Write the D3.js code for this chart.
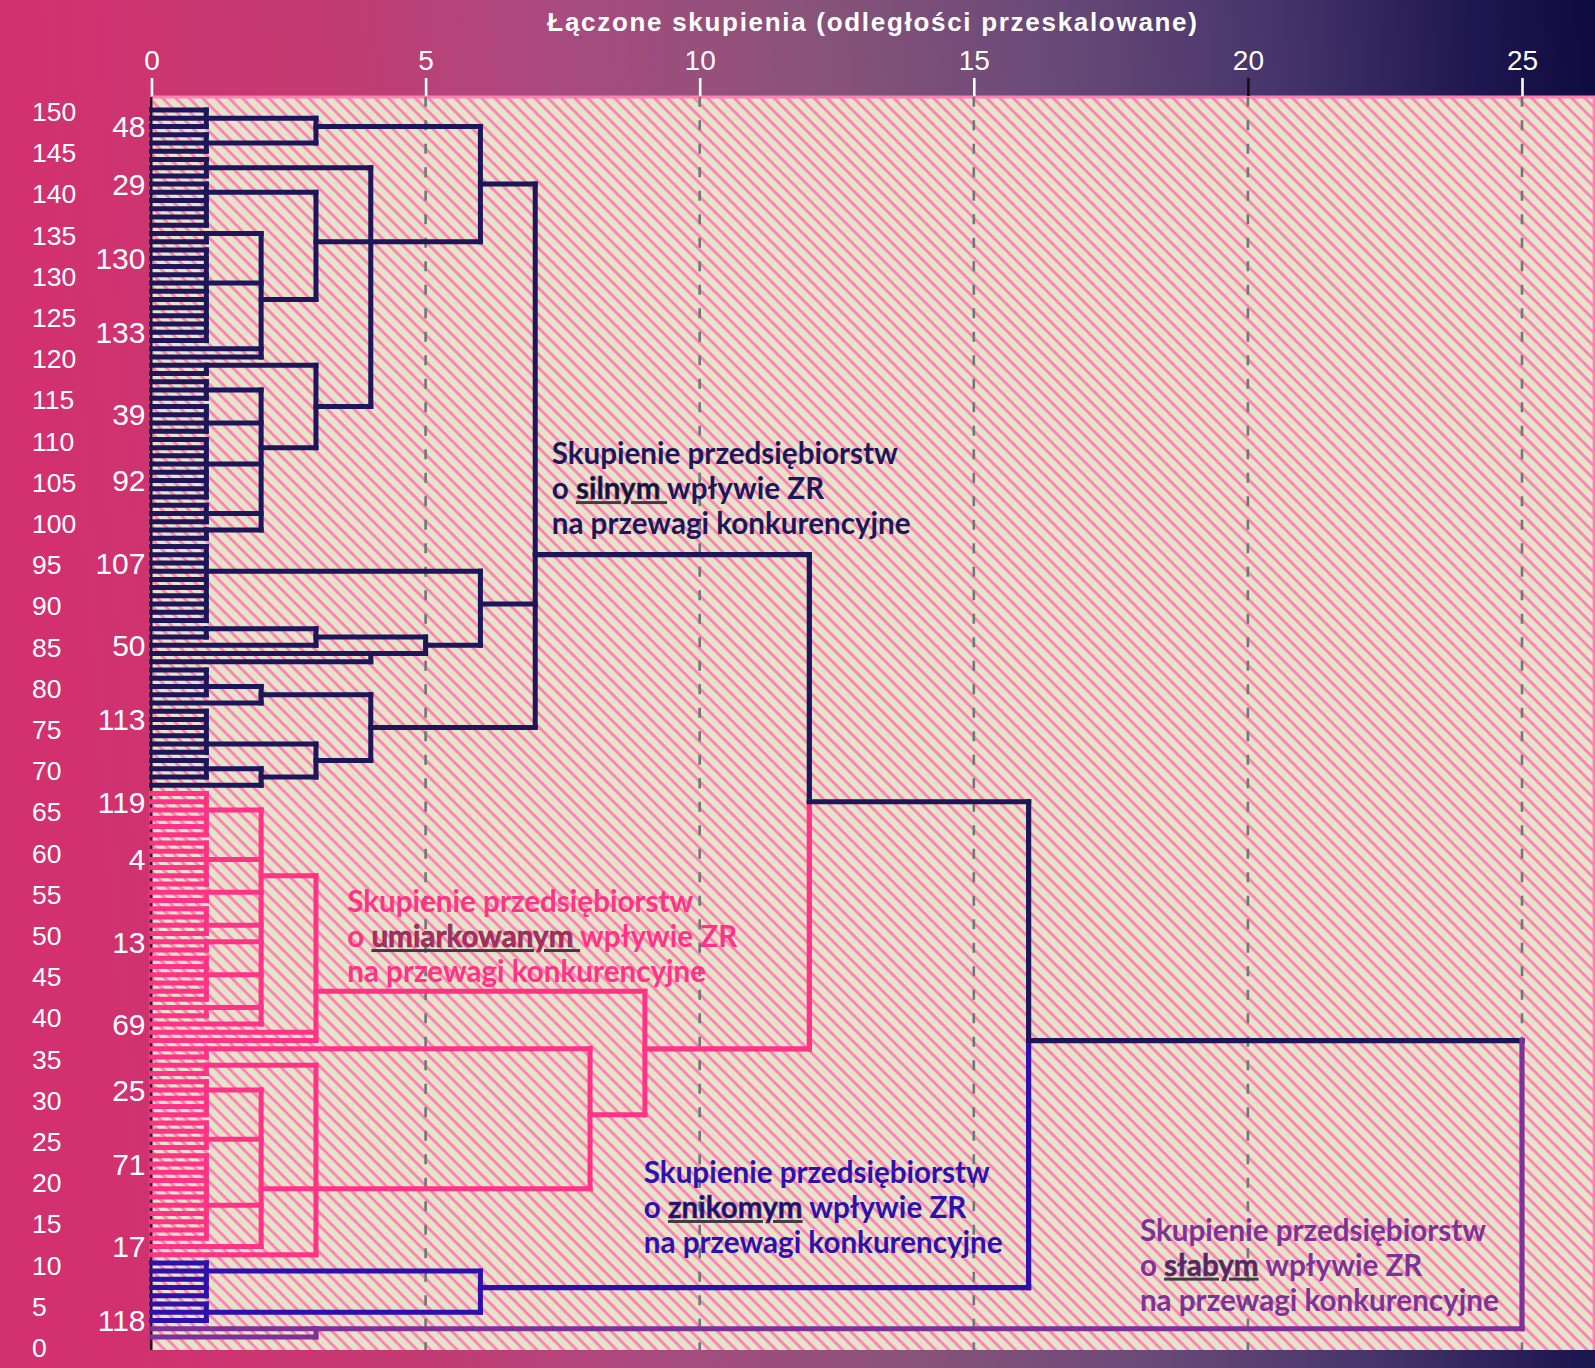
<!DOCTYPE html>
<html lang="pl"><head><meta charset="utf-8">
<script src="https://cdn.jsdelivr.net/npm/d3@7"></script>
<style>html,body{margin:0;padding:0;background:#fff}svg{display:block}text{white-space:pre}</style>
</head><body><svg id="c" width="1595" height="1368"></svg>
<script>
// Node form: [merge distance, row of the outgoing stem, ...children]; a bare number is a leaf row.
const strongCluster = [7, 54,
  [6, 9,
    [3, 2, [1, 1, 0, 1, 2], [1, 4, 3, 4, 5]],
    [4, 16,
      [1, 7, 6, 7, 8],
      [3, 16,
        [1, 10, 9, 10, 11, 12, 13, 14],
        [2, 23,
          [1, 15, 15, 16],
          [1, 21, 17, 18, 19, 20, 21, 22, 23, 24, 25, 26, 27, 28],
          29, 30]],
      [3, 36,
        [1, 31, 31, 32],
        [2, 41,
          [1, 34, 33, 34, 35],
          [1, 38, 36, 37, 38, 39],
          [1, 43, 40, 41, 42, 43, 44, 45, 46, 47],
          [1, 49, 48, 49, 50],
          [1, 51, 51, 52]]]]],
  [6, 60,
    [1, 56, 53, 54, 55, 56, 57, 58, 59, 60, 61, 62],
    [5, 65,
      [3, 64, [1, 63, 63, 64], 65],
      [4, 66, 66, 67]]],
  [4, 75,
    [2, 71, [1, 70, 68, 69, 70, 71], 72],
    [3, 79,
      [1, 77, 73, 74, 75, 76, 77, 78],
      [2, 81, [1, 80, 79, 80, 81], 82]]]];

const moderateCluster = [9, 114,
  [3, 107,
    [2, 93,
      [1, 85, 83, 84, 85, 86, 87, 88],
      [1, 91, 89, 90, 91, 92, 93, 94],
      [1, 95, 95, 96],
      [1, 99, 97, 98, 99, 100],
      [1, 101, 101, 102],
      [1, 105, 103, 104, 105, 106, 107, 108],
      [1, 109, 109, 110],
      111],
    112, 113],
  [8, 122,
    [1, 114, 114, 115],
    [3, 131,
      [1, 116, 116, 117],
      [2, 131,
        [1, 119, 118, 119, 120, 121, 122],
        [1, 125, 123, 124, 125, 126],
        [1, 133, 127, 128, 129, 130, 131, 132, 133, 134, 135, 136, 137],
        138],
      139]]];

const negligibleCluster = [6, 143,
  [1, 141, 140, 141, 142, 143, 144],
  [1, 146, 145, 146, 147]];

const weakCluster = [3, 148, 148, 149];

const clusterOrder = [strongCluster, moderateCluster, negligibleCluster, weakCluster];
const clusterColors = ["#1d1659", "#ff3385", "#2e10ac", "#7e3296"];
const topMerges = [[12, 84], [16, 113], [25, 113]];

const distanceTicks = [0, 5, 10, 15, 20, 25];
const whiteDistanceTicks = [0, 5, 10, 15, 25];
const outerTicks = [150,145,140,135,130,125,120,115,110,105,100,95,90,85,80,75,70,65,60,55,50,45,40,35,30,25,20,15,10,5,0];
const caseLabels = ["48","29","130","133","39","92","107","50","113","119","4","13","69","25","71","17","118"];
const caseRows = [2,9,18,27,37,45,55,65,74,84,91,101,111,119,128,138,147];
const axisTitle = "Łączone skupienia (odległości przeskalowane)";
const noteLines = [
  ["Skupienie przedsiębiorstw", ["o ", "silnym ", "wpływie ZR"], "na przewagi konkurencyjne"],
  ["Skupienie przedsiębiorstw", ["o ", "umiarkowanym ", "wpływie ZR"], "na przewagi konkurencyjne"],
  ["Skupienie przedsiębiorstw", ["o ", "znikomym", " wpływie ZR"], "na przewagi konkurencyjne"],
  ["Skupienie przedsiębiorstw", ["o ", "słabym", " wpływie ZR"], "na przewagi konkurencyjne"]
];
const noteDistance = [7.3, 3.57, 8.98, 18.03];
const noteRow = [43, 97.4, 130.3, 137.3];

const W = 1595, H = 1368;
const plot = {left: 151.5, right: 1594, top: 97, bottom: 1350};
const x = d3.scaleLinear().domain([0, 25]).range([plot.left, 1522]);
const row = d3.scaleLinear().domain([0, 149]).range([110, 1337]);
const outer = d3.scaleLinear().domain([0, 150]).range([1348, 112]);

const svg = d3.select("#c");
const defs = svg.append("defs");
const grad = defs.append("linearGradient").attr("id", "bg").attr("gradientUnits", "userSpaceOnUse")
  .attr("x1", 0).attr("y1", 0).attr("x2", W).attr("y2", -120);
[[0,"#d3306f"],[.2,"#c33b72"],[.34,"#aa4a80"],[.5,"#8a5379"],[.65,"#6a4a78"],[.8,"#44336a"],[.92,"#1e1650"],[1,"#0d0a3e"]]
  .forEach(([o,c]) => grad.append("stop").attr("offset", o).attr("stop-color", c));
const pat = defs.append("pattern").attr("id", "hatch").attr("patternUnits", "userSpaceOnUse")
  .attr("width", 10).attr("height", 9.4).attr("patternTransform", "rotate(45)");
pat.append("rect").attr("width", 10).attr("height", 9.4).attr("fill", "#e4e4c9");
pat.append("rect").attr("width", 10).attr("height", 2.9).attr("fill", "#ff82b6");

svg.append("rect").attr("width", W).attr("height", H).attr("fill", "url(#bg)");
svg.append("rect").attr("x", plot.left).attr("y", plot.top).attr("width", plot.right - plot.left)
  .attr("height", plot.bottom - plot.top).attr("fill", "url(#hatch)");
svg.append("path").attr("d", `M${plot.left},${plot.bottom}V${plot.top}H${plot.right}V${plot.bottom}`)
  .attr("fill", "none").attr("stroke", "#ff80b2").attr("stroke-width", 2.8);

// x axis + grid
svg.append("g").selectAll("line").data(distanceTicks.slice(1)).join("line")
  .attr("x1", x).attr("x2", x).attr("y1", plot.top).attr("y2", plot.bottom)
  .attr("stroke", "#74747a").attr("stroke-width", 2.6)
  .attr("stroke-dasharray", "10 13.5").attr("stroke-dashoffset", 0.3);
const xAxis = svg.append("g").attr("transform", `translate(0,${plot.top - 1})`)
  .call(d3.axisTop(x).tickValues(distanceTicks).tickSize(18).tickPadding(8));
xAxis.select(".domain").remove();
xAxis.selectAll("line").attr("stroke", d => whiteDistanceTicks.includes(d) ? "#fff" : "#111").attr("stroke-width", 2.6);
xAxis.selectAll("text").attr("fill", "#fff").attr("font-family", "Liberation Sans").attr("font-size", 28);

svg.append("text").attr("x", 873).attr("y", 31).attr("text-anchor", "middle")
  .attr("fill", "#fff").attr("font-family", "Liberation Sans").attr("font-weight", 700)
  .attr("font-size", 26).attr("letter-spacing", 1.7).text(axisTitle);

// y side
svg.append("line").attr("x1", plot.left - .3).attr("x2", plot.left - .3).attr("y1", plot.top).attr("y2", plot.bottom)
  .attr("stroke", "#1a1a1a").attr("stroke-width", 2.4);
const yOuter = svg.append("g").attr("transform", "translate(32,0)")
  .call(d3.axisLeft(outer).tickValues(outerTicks).tickSize(0).tickPadding(0).tickFormat(d3.format("d")));
yOuter.select(".domain").remove();
yOuter.selectAll("text").attr("text-anchor", "start").attr("fill", "#fff").attr("font-family", "Liberation Sans").attr("font-size", 26.5);
svg.append("g").selectAll("text").data(caseLabels).join("text")
  .attr("x", 145.5).attr("y", (d, i) => row(caseRows[i])).attr("dy", ".36em").attr("text-anchor", "end")
  .attr("fill", "#fff").attr("font-family", "Liberation Sans").attr("font-size", 30).text(d => d);

// dendrogram
const dist = n => typeof n === "number" ? 0 : n[0];
const stem = n => typeof n === "number" ? n : n[1];
const kids = n => typeof n === "number" ? [] : n.slice(2);
const paths = [];
function walk(node, color) {
  const ch = kids(node);
  if (!ch.length) return;
  const rows = ch.map(stem);
  paths.push({color, d: `M${x(node[0])},${row(d3.min(rows))}V${row(d3.max(rows))}`, w: 5});
  ch.forEach(c => {
    walk(c, color);
    paths.push({color, d: `M${x(dist(c))},${row(stem(c))}H${x(node[0])}`, w: 5});
  });
}
clusterOrder.forEach((n, i) => walk(n, clusterColors[i]));
let joined = clusterOrder[0], joinedColor = clusterColors[0];
topMerges.forEach(([d, s], i) => {
  const other = clusterOrder[i + 1], otherColor = clusterColors[i + 1];
  [[joined, joinedColor], [other, otherColor]].forEach(([c, col]) => {
    paths.push({color: col, d: `M${x(dist(c))},${row(stem(c))}H${x(d)}`, w: 5.2});
    paths.push({color: col, d: `M${x(d)},${row(stem(c))}V${row(s)}`, w: 5.2});
  });
  joined = [d, s]; joinedColor = clusterColors[0];
});
svg.append("g").attr("fill", "none").attr("stroke-linecap", "square").attr("stroke-linejoin", "miter")
  .selectAll("path").data(paths).join("path")
  .attr("d", d => d.d).attr("stroke", d => d.color).attr("stroke-width", d => d.w);

// notes
noteLines.forEach((lines, i) => {
  const t = svg.append("text").attr("font-family", "Lato").attr("font-weight", 700).attr("font-size", 29.6)
    .attr("fill", clusterColors[i]).attr("transform", `translate(${x(noteDistance[i])},${row(noteRow[i])})`);
  lines.forEach((ln, j) => {
    const baseY = j * 35;
    if (typeof ln === "string") t.append("tspan").attr("x", 0).attr("y", baseY).text(ln);
    else {
      t.append("tspan").attr("x", 0).attr("y", baseY).text(ln[0]);
      const u = t.append("tspan").attr("fill", "#3f3a44").attr("text-decoration", "underline");
      u.append("tspan").attr("fill", d3.color(clusterColors[i]).darker(.9)).attr("stroke", "#3b3b40").attr("stroke-width", .5).text(ln[1]);
      t.append("tspan").text(ln[2]);
    }
  });
});
</script></body></html>
